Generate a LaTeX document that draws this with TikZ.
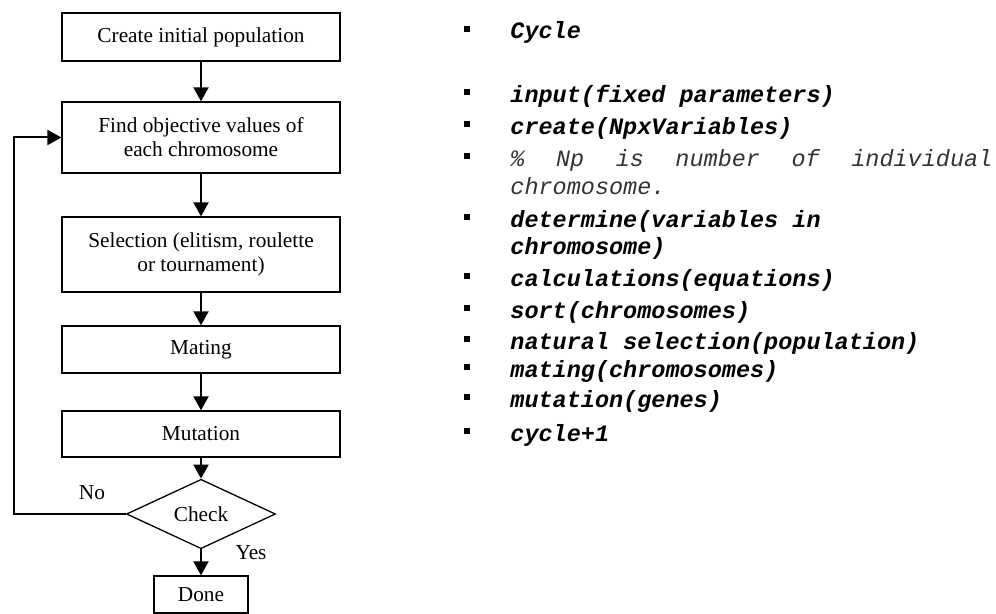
\documentclass[tikz,border=0pt]{standalone}
\usepackage{fontspec}
\setmainfont{Liberation Serif}
\setmonofont{Liberation Mono}
\usepackage{tikz}
\usetikzlibrary{shapes.geometric,arrows.meta}

\begin{document}
\begin{tikzpicture}[x=0.5pt,y=-0.5pt,
    arr/.style={-{Triangle[length=7pt,width=7.5pt]},line width=1pt},
    bul/.style={fill,inner sep=0pt,minimum size=3.4pt},
    lbl/.style={font=\fontsize{10.65}{12}\selectfont}]
\useasboundingbox (0,0) rectangle (996,614);

% flow chart
\begin{scope}[every node/.style={rectangle,draw,line width=0.65pt,align=center,
    minimum width=139pt,font=\fontsize{10.65}{12}\selectfont}]
    \node[minimum height=24pt] (init) at (201,37){Create initial population};
    \node[minimum height=35.5pt] (fov) at (201,137.5){Find objective values of\\each chromosome};
    \node[minimum height=37.5pt] (sel) at (201,254.5){Selection (elitism, roulette\\or tournament)};
    \node[minimum height=23.5pt] (mat) at (201,349.5){Mating};
    \node[minimum height=23pt] (mut) at (201,434){Mutation};
    \node[diamond,minimum width=74.5pt,minimum height=28.5pt,inner sep=0pt] (chk) at (201,514){Check};
    \node[minimum width=47pt,minimum height=18.5pt] (done) at (201,594.5){Done};
\end{scope}

    \draw[arr] (init) -- (fov);
    \draw[arr] (fov) -- (sel);
    \draw[arr] (sel) -- (mat);
    \draw[arr] (mat) -- (mut);
    \draw[arr] (mut) -- (chk);
    \draw[arr] (chk) -- (done);

    \coordinate (back) at (14,514);
    \draw[arr] (chk.west) -- (back) |- (fov.west);

    \node[lbl] (no) at (92,493){No};
    \node[lbl] (yes) at (251,553){Yes};

% pseudo code
\begin{scope}[every node/.style={bul}]
    \node (b1) at (467,29){};
    \node (b2) at (467,92){};
    \node (b3) at (467,124){};
    \node (b4) at (467,156){};
    \node (b5) at (467,217){};
    \node (b6) at (467,276){};
    \node (b7) at (467,308){};
    \node (b8) at (467,339){};
    \node (b9) at (467,367){};
    \node (b10) at (467,397){};
    \node (b11) at (467,431){};
\end{scope}

\begin{scope}[every node/.style={anchor=base west,inner sep=0pt,
    font=\fontsize{11.75}{13.5}\selectfont\ttfamily\bfseries\itshape}]
    \node (t1) at (510,39){Cycle};
    \node (t2) at (510,103){input(fixed parameters)};
    \node (t3) at (510,135){create(NpxVariables)};
    \node[font=\fontsize{11.75}{13.5}\selectfont\ttfamily\itshape,text=black!80] (t4) at (510,167)
        {\makebox[241pt][l]{\%\hfill Np\hfill is\hfill number\hfill of\hfill individual}};
    \node[font=\fontsize{11.75}{13.5}\selectfont\ttfamily\itshape,text=black!80] (t4b) at (510,195){chromosome.};
    \node (t5) at (510,228){determine(variables in};
    \node (t5b) at (510,255){chromosome)};
    \node (t6) at (510,287){calculations(equations)};
    \node (t7) at (510,319){sort(chromosomes)};
    \node (t8) at (510,350){natural selection(population)};
    \node (t9) at (510,378){mating(chromosomes)};
    \node (t10) at (510,408){mutation(genes)};
    \node (t11) at (510,442){cycle+1};
\end{scope}

\end{tikzpicture}
\end{document}
